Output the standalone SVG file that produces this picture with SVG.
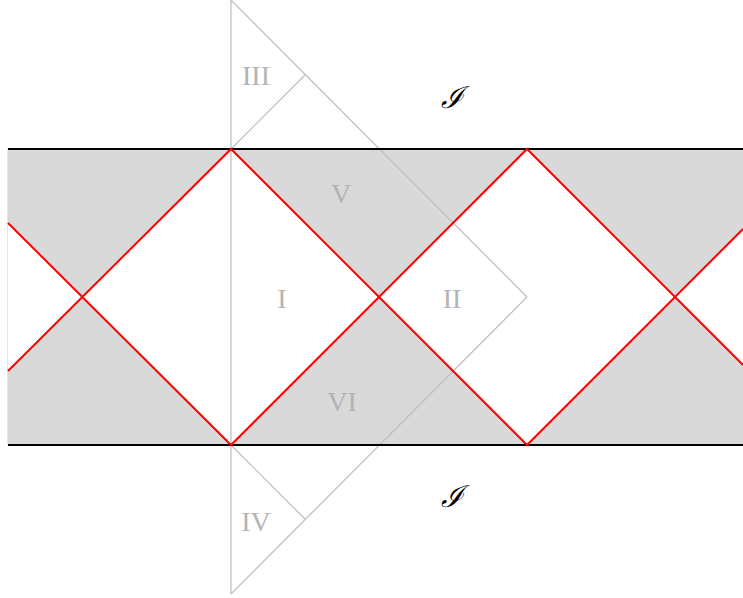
<svg xmlns="http://www.w3.org/2000/svg" width="743" height="598" viewBox="0 0 743 598">
<style>
.fill{fill:#d9d9d9;stroke:none}
.guide{fill:none;stroke:#bdbdbd;stroke-width:1.2}
.red{fill:none;stroke:#ff0000;stroke-width:2}
.edge{fill:none;stroke:#000;stroke-width:2}
.lbl{font-family:"Liberation Serif","DejaVu Serif",serif;font-size:28px;fill:#b3b3b3;text-anchor:middle}
.scri{font-family:"DejaVu Serif","Liberation Serif",serif;font-style:italic;font-size:30px;fill:#000;text-anchor:middle}
</style>
<rect width="743" height="598" fill="#fff"/>
<g id="shading">
<polygon class="fill" points="8,149 231,149 82,297 8,223"/>
<polygon class="fill" points="8,371 82,297 231,445 8,445"/>
<polygon class="fill" points="231,149 527,149 379,297"/>
<polygon class="fill" points="231,445 379,297 527,445"/>
<polygon class="fill" points="527,149 743,149 743,229 675,297"/>
<polygon class="fill" points="675,297 743,365 743,445 527,445"/>
<line x1="7.5" y1="149" x2="7.5" y2="445" stroke="#e6e6e6" stroke-width="1"/>
</g>
<g id="connectors">
<line class="guide" x1="231" y1="0" x2="231" y2="594"/>
<polyline class="guide" points="231,0 527,297 231,594"/>
<line class="guide" x1="231" y1="149" x2="305" y2="75"/>
<line class="guide" x1="231" y1="445" x2="305" y2="519"/>
<line class="edge" x1="8" y1="149" x2="743" y2="149"/>
<line class="edge" x1="8" y1="445" x2="743" y2="445"/>
<polyline class="red" points="8,223 231,445 527,149 743,365"/>
<polyline class="red" points="8,371 231,149 527,445 743,229"/>
</g>
<g id="region-III"><text class="lbl" x="256" y="85">III</text></g>
<g id="region-V"><text class="lbl" x="341" y="203">V</text></g>
<g id="region-I"><text class="lbl" x="282" y="308">I</text></g>
<g id="region-II"><text class="lbl" x="452" y="308">II</text></g>
<g id="region-VI"><text class="lbl" x="342" y="411">VI</text></g>
<g id="region-IV"><text class="lbl" x="256" y="531">IV</text></g>
<g id="scri-top"><text class="scri" x="452" y="108">ℐ</text></g>
<g id="scri-bottom"><text class="scri" x="452" y="507">ℐ</text></g>
</svg>
